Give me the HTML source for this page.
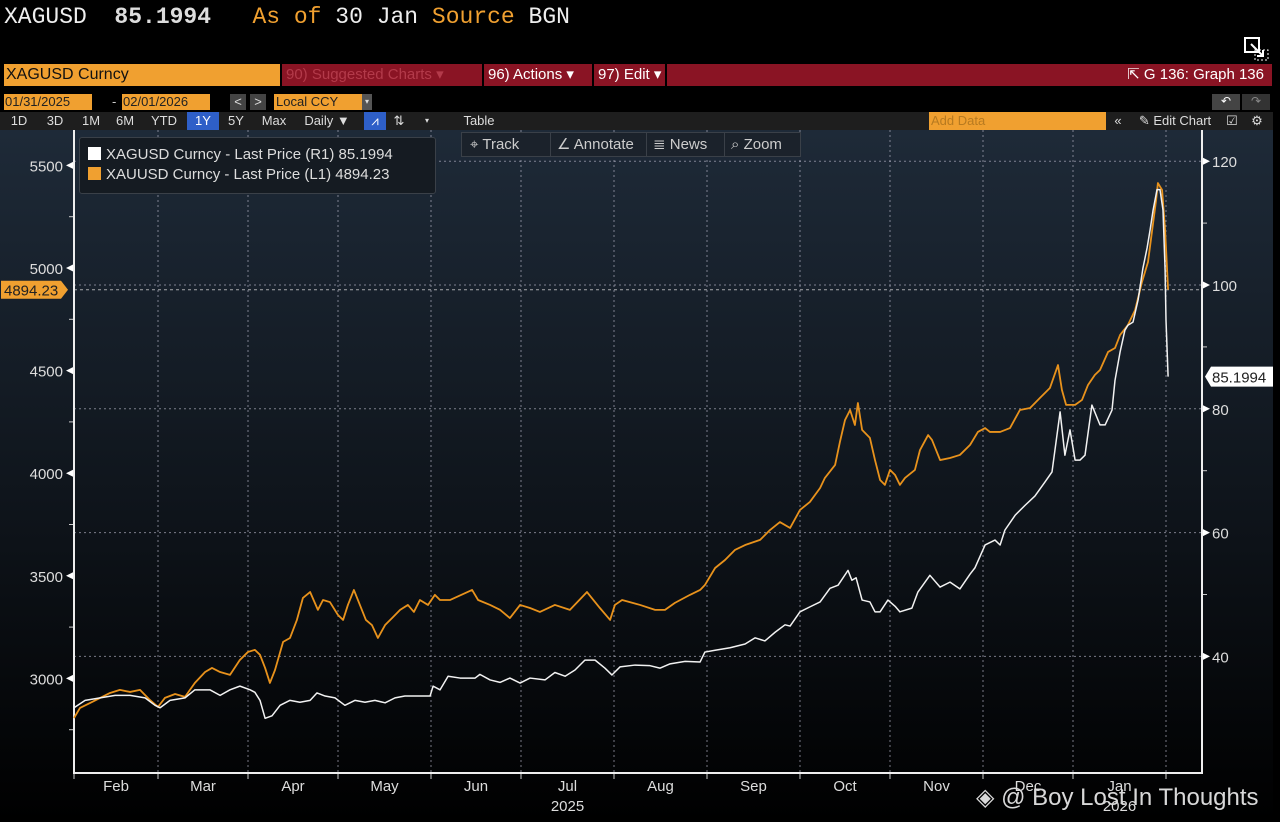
<!DOCTYPE html>
<html><head><meta charset="utf-8">
<style>
*{margin:0;padding:0;box-sizing:border-box}
body{width:1280px;height:822px;background:#000;overflow:hidden;position:relative;font-family:"Liberation Sans",sans-serif;color:#ddd}
.abs{position:absolute}
#title{left:4px;top:4px;font-family:"Liberation Mono",monospace;font-size:23px;white-space:pre;color:#eee}
.or{color:#f0a030}
.tb{font-size:15px;line-height:22px;height:22px;white-space:nowrap}
.btn{position:absolute;top:0;height:18px;line-height:18px;font-size:13px;color:#ddd;text-align:center}
</style></head><body>
<div id="title" class="abs">XAGUSD  <b style="color:#ddd">85.1994</b>   <span class="or">As of</span> 30 Jan <span class="or">Source</span> BGN</div>
<svg class="abs" style="left:1243px;top:36px" width="28" height="26"><rect x="2" y="2" width="14" height="14" fill="none" stroke="#fff" stroke-width="2"/><path d="M8 8 L20 20 M14 20 H20 V14" stroke="#fff" stroke-width="2" fill="none"/><rect x="12" y="14" width="13" height="10" fill="none" stroke="#fff" stroke-dasharray="2 2"/></svg>

<div class="abs tb" style="left:4px;top:64px;width:276px;background:#f0a030;color:#111;padding-left:2px;font-size:16px">XAGUSD Curncy</div>
<div class="abs tb" style="left:282px;top:64px;width:990px;background:#8a1424">
 <span class="abs" style="left:4px;color:#b33a4a">90) Suggested Charts ▾</span>
 <span class="abs" style="left:200px;color:#fff;border-left:2px solid #000;padding-left:4px">96) Actions ▾</span>
 <span class="abs" style="left:310px;color:#fff;border-left:2px solid #000;padding-left:4px;border-right:2px solid #000;padding-right:4px">97) Edit ▾</span>
 <span class="abs" style="right:8px;color:#fff">⇱ G 136: Graph 136</span>
</div>
<div class="abs" style="left:4px;top:94px;height:16px;font-size:13px;line-height:16px;white-space:nowrap">
 <span class="abs" style="left:0;width:88px;background:#f0a030;color:#222;padding-left:1px">01/31/2025</span>
 <span class="abs" style="left:108px;color:#ccc">-</span>
 <span class="abs" style="left:118px;width:88px;background:#f0a030;color:#222;padding-left:1px">02/01/2026</span>
 <span class="abs" style="left:226px;width:16px;background:#444;text-align:center">&lt;</span>
 <span class="abs" style="left:246px;width:16px;background:#444;text-align:center">&gt;</span>
 <span class="abs" style="left:270px;width:88px;background:#f0a030;color:#222;padding-left:2px">Local CCY</span>
 <span class="abs" style="left:358px;width:10px;background:#555;font-size:8px;text-align:center">▾</span>
</div>
<div class="abs" style="left:1212px;top:94px;width:28px;height:16px;background:#444;color:#fff;font-size:12px;text-align:center">↶</div>
<div class="abs" style="left:1242px;top:94px;width:28px;height:16px;background:#333;color:#888;font-size:12px;text-align:center">↷</div>
<div class="abs" style="left:0;top:112px;width:1273px;height:18px;background:#1e1e1e">
 <span class="btn" style="left:4px;width:30px">1D</span>
 <span class="btn" style="left:40px;width:30px">3D</span>
 <span class="btn" style="left:76px;width:30px">1M</span>
 <span class="btn" style="left:110px;width:30px">6M</span>
 <span class="btn" style="left:146px;width:36px">YTD</span>
 <span class="btn" style="left:187px;width:32px;background:#2e5fc8;color:#fff">1Y</span>
 <span class="btn" style="left:222px;width:28px">5Y</span>
 <span class="btn" style="left:256px;width:36px">Max</span>
 <span class="btn" style="left:298px;width:58px">Daily ▼</span>
 <span class="btn" style="left:364px;width:22px;background:#2e5fc8;color:#fff">⩘</span>
 <span class="btn" style="left:390px;width:18px">⇅</span>
 <span class="btn" style="left:420px;width:14px;font-size:8px">▾</span>
 <span class="btn" style="left:448px;width:62px">Table</span>
 <span class="btn" style="left:929px;width:177px;background:#f0a030;color:#b77a20;text-align:left;padding-left:2px">Add Data</span>
 <span class="btn" style="left:1108px;width:20px">«</span>
 <span class="btn" style="left:1132px;width:86px">✎ Edit Chart</span>
 <span class="btn" style="left:1222px;width:20px">☑</span>
 <span class="btn" style="left:1246px;width:22px">⚙</span>
</div>

<svg id="chart" class="abs" style="left:0;top:130px" width="1273" height="692">
 <defs><linearGradient id="bg" x1="0" y1="0" x2="0" y2="1"><stop offset="0" stop-color="#1e2a38"/><stop offset="0.6" stop-color="#0d1218"/><stop offset="1" stop-color="#000"/></linearGradient></defs>
 <rect x="0" y="0" width="1273" height="692" fill="url(#bg)"/>
 <g id="grid"></g><g id="axes"></g><g id="series"></g>
</svg>

<div class="abs" style="left:79px;top:137px;width:357px;height:57px;background:#151b22;border:1px solid #3a4048;border-radius:3px;font-size:15px;line-height:20px;padding:7px 0 0 8px">
 <div><span style="display:inline-block;width:13px;height:13px;background:#fff;vertical-align:-1px;margin-right:5px"></span>XAGUSD Curncy - Last Price (R1) 85.1994</div>
 <div><span style="display:inline-block;width:13px;height:13px;background:#f0a030;vertical-align:-1px;margin-right:5px"></span>XAUUSD Curncy - Last Price (L1) 4894.23</div>
</div>
<div class="abs" style="left:461px;top:132px;width:340px;height:25px;background:#1b222b;border:1px solid #3a4048;font-size:15px;line-height:23px;white-space:nowrap;color:#ccc">
 <span class="abs" style="left:8px">⌖ Track</span>
 <span class="abs" style="left:88px;border-left:1px solid #3a4048;padding-left:6px">∠ Annotate</span>
 <span class="abs" style="left:184px;border-left:1px solid #3a4048;padding-left:6px">≣ News</span>
 <span class="abs" style="left:262px;border-left:1px solid #3a4048;padding-left:6px">⌕ Zoom</span>
</div>
<div class="abs" style="left:976px;top:783px;font-size:24px;color:#d8d8d8;font-family:'Liberation Sans',sans-serif;white-space:nowrap">◈ @ Boy Lost In Thoughts</div>

<script>
const goldSeries=[[0,2807],[2,2856],[5.3,2880],[8.7,2905],[12,2929],[15.3,2944],[18.7,2934],[22,2944],[25.3,2895],[28,2861],[30.3,2905],[33.7,2924],[37,2910],[40.3,2978],[43.7,3031],[46,3051],[48.7,3031],[52,3017],[55.3,3090],[58,3129],[60.3,3139],[62,3115],[63.7,3051],[65.3,2978],[67,3041],[69.7,3178],[72,3197],[74.3,3285],[76.3,3392],[78.7,3421],[81.3,3334],[83,3382],[85.3,3372],[88,3309],[89.7,3285],[91.3,3358],[93.3,3431],[95.3,3358],[97.3,3285],[99.3,3260],[101.3,3197],[103.7,3260],[106,3294],[108.7,3334],[111.3,3358],[113.3,3324],[115.3,3382],[118,3358],[120.3,3407],[122,3382],[125.3,3382],[132.7,3431],[134.7,3382],[138.7,3358],[142,3334],[145.3,3294],[148.7,3358],[152,3343],[155.3,3324],[160.3,3358],[165.3,3334],[171,3421],[175.3,3343],[178.7,3285],[180.3,3358],[182.7,3382],[188.7,3358],[193.7,3334],[197,3334],[200.3,3368],[205.3,3407],[208.7,3431],[210.3,3455],[213.7,3538],[217,3577],[220.3,3626],[223.7,3650],[228.7,3675],[232,3723],[235.3,3762],[238.7,3733],[242,3821],[245.3,3860],[248.7,3928],[250.3,3977],[253.7,4040],[255.3,4152],[257,4259],[258.7,4308],[260.3,4235],[261.3,4342],[262.7,4211],[265.3,4172],[267,4064],[268.7,3967],[270.3,3943],[272,4016],[273.7,3991],[275.3,3943],[277,3977],[280.3,4016],[282,4113],[284.7,4186],[286,4162],[288.7,4064],[292,4074],[295.3,4089],[298.7,4138],[301.3,4201],[303.7,4220],[305.3,4201],[308.7,4201],[312,4220],[315.3,4308],[318.7,4318],[322,4367],[325.3,4415],[328,4527],[329.3,4406],[330.7,4333],[333.7,4333],[336,4357],[338,4430],[340.3,4479],[342,4503],[344.7,4591],[347,4610],[348.7,4674],[351.3,4722],[353.7,4795],[356,4932],[358,5029],[359.3,5175],[360.7,5331],[361.3,5414],[362.7,5380],[363.7,5185],[364.7,4894.23]];
const silverSeries=[[0,31.7],[3.7,32.9],[8.7,33.3],[13.7,33.7],[18.7,33.7],[23.7,33.3],[27,32.1],[28.7,31.7],[32,32.9],[37,33.3],[40.3,34.6],[45.3,34.6],[48.7,33.7],[52,34.6],[55.3,35.2],[58.7,34.6],[60.3,34.2],[62,32.9],[63.7,30.0],[66,30.4],[68.7,32.1],[72,32.9],[75.3,32.6],[78.7,32.9],[81,34.1],[83.7,33.6],[87,33.3],[90.3,32.1],[93.7,32.9],[97,32.6],[100.3,32.9],[103.7,32.5],[107,33.3],[110.3,33.6],[115.3,33.6],[118.7,33.6],[119.7,35.2],[122,34.6],[124.7,36.8],[128.7,36.5],[133.7,36.5],[135.3,37.1],[138.7,36.2],[142,35.8],[145.3,36.5],[148.7,35.7],[152,36.5],[157,36.2],[160.3,37.4],[163.7,36.8],[167,37.8],[170.3,39.4],[173.7,39.4],[177,38.1],[179.3,37.0],[182,38.3],[187,38.6],[192,38.5],[195.3,38.1],[198.7,38.8],[203.7,39.2],[208.7,39.1],[210.3,40.7],[213.7,41.0],[218.7,41.4],[223.7,42.0],[227,43.0],[230.3,42.5],[233.7,43.9],[237,45.1],[238.7,44.9],[242,47.2],[245.3,48.0],[248.7,48.8],[252,51.0],[254.7,51.5],[258,53.9],[259.3,52.3],[260.7,52.7],[262.7,49.1],[265.3,48.8],[267,47.2],[268.7,47.2],[271.3,49.1],[273.7,48.1],[275.3,47.2],[279.3,47.8],[281.3,50.4],[285.3,53.1],[288.7,51.2],[292,52.0],[295.3,50.9],[298.7,53.3],[300.3,54.3],[303.7,58.0],[307,58.8],[308.7,58.0],[310.3,60.4],[313.7,62.8],[317,64.4],[320.3,65.9],[323.7,68.2],[326,69.8],[328.7,79.5],[330.3,72.5],[332,76.6],[333.7,71.7],[335.3,71.7],[337,72.5],[339.3,80.6],[342,77.4],[343.7,77.4],[346,79.8],[347,84.6],[348.7,89.2],[350.3,92.7],[351.3,93.5],[353,94.0],[354.7,97.6],[356.3,102.7],[357.7,106.0],[358.7,108.9],[359.7,112.1],[361,115.4],[362,115.4],[363,112.1],[363.7,102.4],[364,94.3],[364.7,85.1994]];
const leftTicks=[3000,3500,4000,4500,5000,5500];
const rightTicks=[40,60,80,100,120];
const monthLabels=["Feb","Mar","Apr","May","Jun","Jul","Aug","Sep","Oct","Nov","Dec","Jan"];
const monthStartDays=[0,28,58,88,119,149,180,211,242,272,303,333,364];
const yearLabels=[["2025",5.5],["2026",11.5]];
const goldLast=4894.23, silverLast=85.1994;

const NS="http://www.w3.org/2000/svg";
const OY=130;
const X=d=>74+d*3.0;
const YL=v=>268-OY-(v-5000)*0.2052;
const YR=v=>285-OY-(v-100)*6.19;
function mk(tag,at,parent){const e=document.createElementNS(NS,tag);for(const k in at)e.setAttribute(k,at[k]);parent.appendChild(e);return e;}
const grid=document.getElementById('grid'),axes=document.getElementById('axes'),ser=document.getElementById('series');
const bottom=773-OY, axR=1202;
rightTicks.forEach(t=>{const y=YR(t);
 const l=mk('line',{x1:74,x2:axR,y1:y,y2:y,stroke:'#aab',"stroke-width":1,"stroke-dasharray":"2 3",opacity:0.7},grid);
 
 const p=mk('path',{d:`M${axR} ${y-4}L${axR+8} ${y}L${axR} ${y+4}Z`,fill:'#fff'},axes);
 
 const tx=mk('text',{x:axR+10,y:y+6,fill:'#ddd',"font-size":15,"font-family":"Liberation Sans"},axes);tx.textContent=t;
 
});
rightTicks.slice(0,-1).forEach(t=>{const y=YR(t+10);mk('line',{x1:axR,x2:axR+5,y1:y,y2:y,stroke:'#ccc'},axes);});
leftTicks.forEach(t=>{const y=YL(t);
 const p=mk('path',{d:`M74 ${y-4}L66 ${y}L74 ${y+4}Z`,fill:'#fff'},axes);
 
 const tx=mk('text',{x:63,y:y+6,fill:'#ddd',"font-size":15,"text-anchor":"end","font-family":"Liberation Sans"},axes);tx.textContent=t;
 
 const ym=YL(t-250);mk('line',{x1:69,x2:74,y1:ym,y2:ym,stroke:'#ccc'},axes);
});
monthStartDays.forEach((d,i)=>{const x=X(d);
 if(i>0){const g=mk('line',{x1:x,x2:x,y1:0,y2:bottom,stroke:'#aab',"stroke-dasharray":"2 3",opacity:0.7},grid);
  }
 mk('line',{x1:x,x2:x,y1:bottom,y2:bottom+6,stroke:'#ccc'},axes);
 if(i<monthLabels.length){const tx=mk('text',{x:(x+X(monthStartDays[i+1]))/2,y:bottom+18,fill:'#ddd',"font-size":15,"text-anchor":"middle","font-family":"Liberation Sans"},axes);tx.textContent=monthLabels[i];
  }
});
yearLabels.forEach(([lab,m])=>{const x=(X(monthStartDays[Math.floor(m)])+X(monthStartDays[Math.ceil(m)]))/2;
 const tx=mk('text',{x:x,y:bottom+38,fill:'#ddd',"font-size":15,"text-anchor":"middle","font-family":"Liberation Sans"},axes);tx.textContent=lab;
 });
const la=mk('line',{x1:74,x2:74,y1:0,y2:bottom,stroke:'#eee',"stroke-width":2},axes);
const ra=mk('line',{x1:axR,x2:axR,y1:0,y2:bottom,stroke:'#eee',"stroke-width":2},axes);
const ba=mk('line',{x1:73,x2:axR+1,y1:bottom,y2:bottom,stroke:'#eee',"stroke-width":2},axes);

const gp=mk('polyline',{points:goldSeries.map(p=>X(p[0])+','+YL(p[1])).join(' '),fill:'none',stroke:'#e8921c',"stroke-width":1.8,"stroke-linejoin":"round"},ser);

const sp=mk('polyline',{points:silverSeries.map(p=>X(p[0])+','+YR(p[1])).join(' '),fill:'none',stroke:'#f2f2f2',"stroke-width":1.5,"stroke-linejoin":"round"},ser);


const gy=YL(goldLast);
const gt=mk('path',{d:`M1 ${gy-9}H61L68 ${gy}L61 ${gy+9}H1Z`,fill:'#f0a030'},axes);
const gtx=mk('text',{x:4,y:gy+6,fill:'#222',"font-size":15,"font-family":"Liberation Sans"},axes);gtx.textContent=goldLast.toFixed(2);

mk('line',{x1:74,x2:axR,y1:gy,y2:gy,stroke:'#ccc',"stroke-dasharray":"3 3",opacity:0.8},grid);
const sy=YR(silverLast);
const st=mk('path',{d:`M1205 ${sy}L1211 ${sy-10}H1273V${sy+10}H1211Z`,fill:'#fff'},axes);
const stx=mk('text',{x:1212,y:sy+6,fill:'#222',"font-size":15,"font-family":"Liberation Sans"},axes);stx.textContent=silverLast.toFixed(4);

</script>
</body></html>
